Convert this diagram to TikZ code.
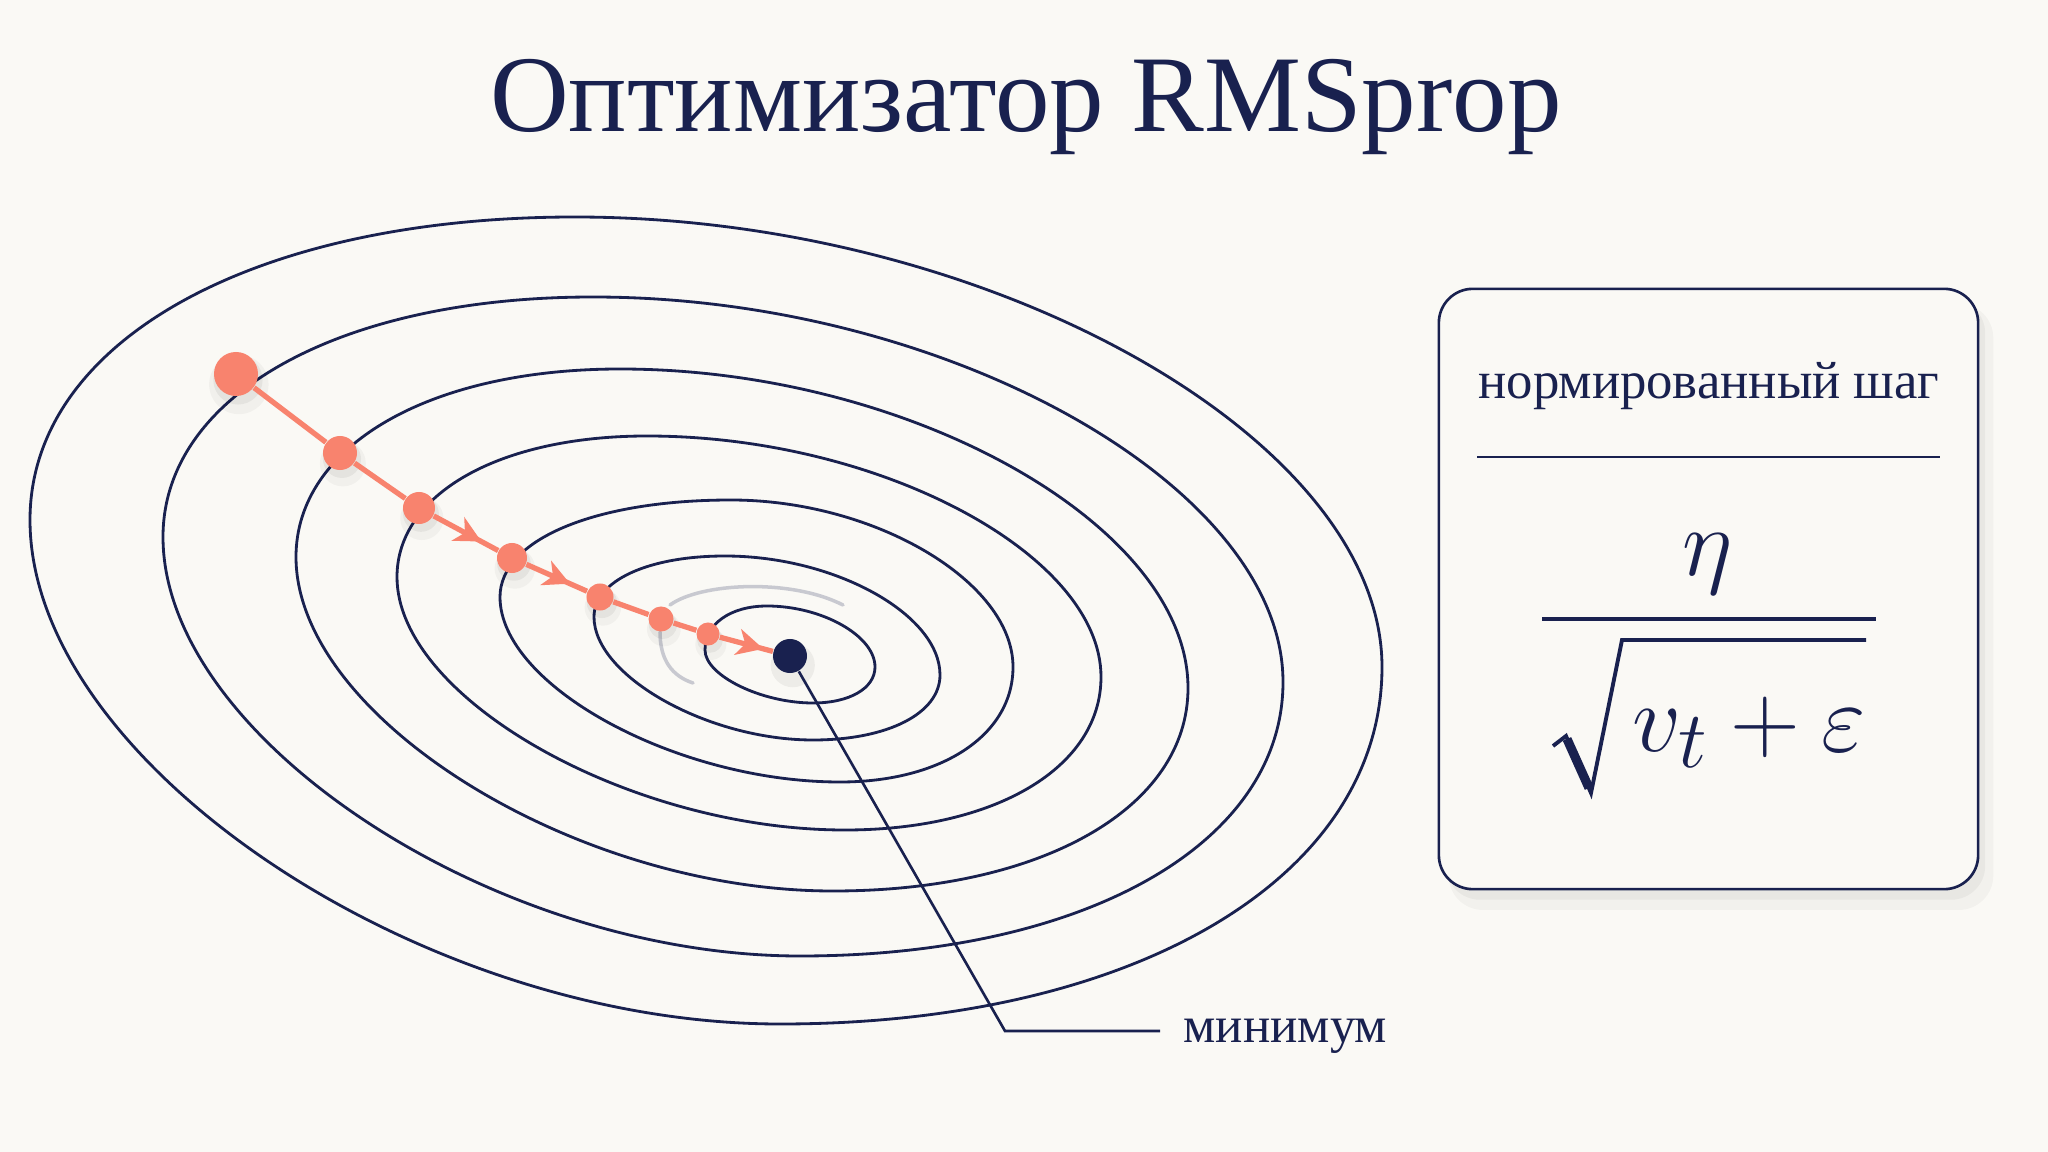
\documentclass[tikz,border=0pt]{standalone}
\usepackage{fontspec}
\setmainfont{Liberation Serif}
\usetikzlibrary{arrows.meta,decorations.markings,shadows}
\definecolor{ink}{HTML}{19214F}
\definecolor{corl}{HTML}{F8836E}
\definecolor{bgc}{HTML}{FAF9F5}
\def\kA{0.59}
\def\kB{0.51}
\def\kC{0.48}
\newcommand\contourpath[8]{%
  \draw[contourline] (#1,#2) .. controls (#1,{#2-\kA*(#2-#4)}) and ({#3-\kA*(#3-#1)},#4) .. (#3,#4)
    .. controls ({#3+\kB*(#5-#3)},#4) and (#5,{#6-\kB*(#6-#4)}) .. (#5,#6)
    .. controls (#5,{#6+\kA*(#8-#6)}) and ({#7+\kA*(#5-#7)},#8) .. (#7,#8)
    .. controls ({#7-\kC*(#7-#1)},#8) and (#1,{#2+\kC*(#8-#2)}) .. (#1,#2) -- cycle;}
\tikzset{
  contourline/.style={draw=ink, line width=0.8pt},
  smudge/.style={draw=ink, line width=1pt, opacity=0.22, line cap=round},
  traj/.style={draw=corl, line width=1.5pt},
  dot/.style={circle, fill=corl, inner sep=0pt,
    general shadow={fill=black, opacity=0.035, shadow scale=1.35, shadow xshift=0.6pt, shadow yshift=-2.2pt},
    general shadow={fill=black, opacity=0.05, shadow scale=1.12, shadow xshift=0.5pt, shadow yshift=-1.5pt}},
  mindot/.style={circle, fill=ink, inner sep=0pt, minimum size=0.34cm,
    general shadow={fill=black, opacity=0.05, shadow scale=1.3, shadow xshift=0.6pt, shadow yshift=-2pt}},
  midarrow/.style={postaction={decorate}, decoration={markings,
    mark=at position #1 with {\arrow{Stealth[length=7.5pt,width=7.5pt,inset=2.2pt]}}}},
  lead/.style={draw=ink, line width=0.75pt},
  card/.style={draw=ink, line width=0.75pt, fill=bgc, rounded corners=0.34cm,
    minimum width=5.39cm, minimum height=6cm, inner sep=0pt,
    general shadow={fill=black, opacity=0.03, shadow xshift=3.5pt, shadow yshift=-5pt, shadow scale=1.01},
    general shadow={fill=black, opacity=0.04, shadow xshift=2pt, shadow yshift=-3pt}},
  txt/.style={text=ink, inner sep=0pt}
}
\begin{document}
\begin{tikzpicture}[x=0.01cm,y=-0.01cm]
\fill[bgc] (0,0) rectangle (2048,1152);
\useasboundingbox (0,0) rectangle (2048,1152);

% title
\node[txt, anchor=base] (title) at (1026,132) {\fontsize{31}{36}\selectfont Оптимизатор RMSprop};

% contour lines
\contourpath{30}{520}{575}{217}{1382}{667}{780}{1024}
\contourpath{163}{537}{593}{297}{1283}{682}{800}{956}
\contourpath{296}{557}{620}{369}{1188}{688}{833}{891}
\contourpath{397}{577}{647}{436}{1101}{677}{845}{830}
\contourpath{500}{597}{731}{500}{1013}{667}{840}{782}
\contourpath{594}{617}{725}{556}{940}{675}{813}{740}
\contourpath{705}{650}{767}{606}{875}{667}{813}{703}

% faint smudged arcs
\draw[smudge] (670,605) .. controls (700,583) and (790,578) .. (843,605);
\draw[smudge] (660,632) .. controls (660,660) and (672,676) .. (693,683);

% trajectory points
\node[dot, minimum size=0.44cm] (d1) at (236,374) {};
\node[dot, minimum size=0.34cm] (d2) at (340,453) {};
\node[dot, minimum size=0.32cm] (d3) at (419,508) {};
\node[dot, minimum size=0.30cm] (d4) at (512,558) {};
\node[dot, minimum size=0.27cm] (d5) at (600,597) {};
\node[dot, minimum size=0.25cm] (d6) at (661,619) {};
\node[dot, minimum size=0.23cm] (d7) at (708,634) {};
\node[mindot] (min) at (790,656) {};

\draw[traj] (d1) -- (d2);
\draw[traj] (d2) -- (d3);
\draw[traj, midarrow=0.74] (d3) -- (d4);
\draw[traj, midarrow=0.72] (d4) -- (d5);
\draw[traj] (d5) -- (d6);
\draw[traj] (d6) -- (d7);
\draw[traj, midarrow=0.82] (d7) -- (min);

% minimum label
\node[txt, anchor=base west] (minlbl) at (1183,1042) {\fontsize{14.5}{17}\selectfont минимум};
\coordinate (bend) at (1005,1031);
\coordinate (lend) at (1160,1031);
\draw[lead] (min) -- (bend) -- (lend);

% card
\node[card] (box) at (1708.5,589) {};
\node[txt, anchor=base] (boxlbl) at (1709,399) {\fontsize{15}{18}\selectfont нормированный шаг};
\draw[draw=ink, line width=0.6pt] (1477,457) -- (1940,457);
\node[txt, anchor=base] (eta) at (1708,576) {\scalebox{1.105}{\fontsize{24.88}{30}\selectfont$\eta$}};
\draw[draw=ink, line width=1.4pt] (1542,619) -- (1876,619);
\draw[draw=ink, line width=1.1pt, line join=miter] (1553,746) -- (1566,736) -- (1591,793) -- (1622,640) -- (1866,640);
\draw[draw=ink, line width=2.6pt] (1567,739) -- (1589,788);
\node[txt, anchor=base west] (den) at (1632,751) {\scalebox{1.105}{\fontsize{24.88}{30}\selectfont$v_t+\varepsilon$}};
\end{tikzpicture}
\end{document}
